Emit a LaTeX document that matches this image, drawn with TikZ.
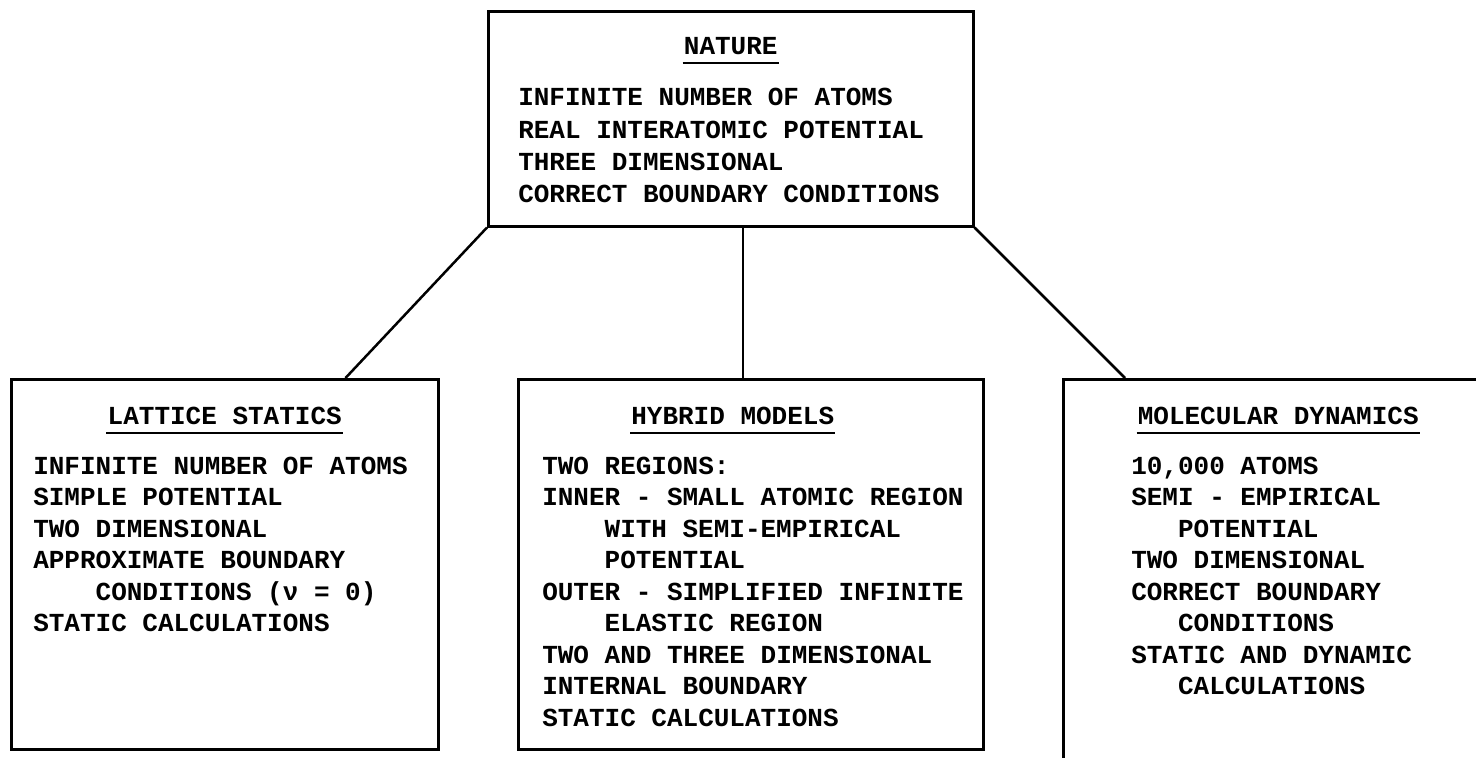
\documentclass[tikz,border=0pt]{standalone}
\usepackage{fontspec}
\setmonofont{Liberation Mono}
\usetikzlibrary{positioning}

\newcommand{\prfont}[1]{\ttfamily\bfseries\fontsize{26}{#1}\selectfont\frenchspacing\spaceskip=0.6em\relax}

\begin{document}
\begin{tikzpicture}[x=1pt, y=-1pt, line width=2.5pt,
  box/.style={draw, rectangle, anchor=north west, inner sep=0pt},
  heading/.style={inner sep=0pt, font=\prfont{31.5}},
  items/.style={inner sep=0pt, align=flush left, text width=440pt, font=\prfont{31.5}},
  uline/.style={line width=2pt}]
\path[use as bounding box, clip] (0,0) rectangle (1476,758);

% the four boxes
\node[box, minimum width=485pt, minimum height=215pt] (nature) at (487,10) {};
\node[box, minimum width=427pt, minimum height=370pt] (lattice) at (10,378) {};
\node[box, minimum width=465pt, minimum height=370pt] (hybrid) at (517,378) {};
\node[box, minimum width=430pt, minimum height=420pt] (molecular) at (1062,378) {};

% headings
\node[heading, below=26.5pt of nature.north] (natt) {NATURE};
\node[heading, below=27.5pt of lattice.north] (latt) {LATTICE STATICS};
\node[heading, below=27.5pt of hybrid.north, xshift=-18pt] (hybt) {HYBRID MODELS};
\node[heading, below=27.5pt of molecular.north] (molt) {MOLECULAR DYNAMICS};
\draw[uline] ([yshift=-7pt]natt.south west) -- ([yshift=-7pt]natt.south east);
\draw[uline] ([yshift=-7pt]latt.south west) -- ([yshift=-7pt]latt.south east);
\draw[uline] ([yshift=-7pt]hybt.south west) -- ([yshift=-7pt]hybt.south east);
\draw[uline] ([yshift=-7pt]molt.south west) -- ([yshift=-7pt]molt.south east);

% lists
\node[items, below right=77pt and 30pt of nature.north west, font=\prfont{32.4}] (natl)
  {INFINITE NUMBER OF ATOMS\\
   REAL INTERATOMIC POTENTIAL\\
   THREE DIMENSIONAL\\
   CORRECT BOUNDARY CONDITIONS};
\node[items, below right=77.5pt and 22pt of lattice.north west] (latl)
  {INFINITE NUMBER OF ATOMS\\
   SIMPLE POTENTIAL\\
   TWO DIMENSIONAL\\
   APPROXIMATE BOUNDARY\\
   \hspace*{2.4em}CONDITIONS (ν = 0)\\
   STATIC CALCULATIONS};
\node[items, below right=77.5pt and 24pt of hybrid.north west] (hybl)
  {TWO REGIONS:\\
   INNER - SMALL ATOMIC REGION\\
   \hspace*{2.4em}WITH SEMI-EMPIRICAL\\
   \hspace*{2.4em}POTENTIAL\\
   OUTER - SIMPLIFIED INFINITE\\
   \hspace*{2.4em}ELASTIC REGION\\
   TWO AND THREE DIMENSIONAL\\
   INTERNAL BOUNDARY\\
   STATIC CALCULATIONS};
\node[items, below right=77.5pt and 68pt of molecular.north west] (moll)
  {10,000 ATOMS\\
   SEMI - EMPIRICAL\\
   \hspace*{1.8em}POTENTIAL\\
   TWO DIMENSIONAL\\
   CORRECT BOUNDARY\\
   \hspace*{1.8em}CONDITIONS\\
   STATIC AND DYNAMIC\\
   \hspace*{1.8em}CALCULATIONS};

% connectors
\path (nature.south west) edge ([xshift=-94pt]lattice.north east)
      ([xshift=-8pt]hybrid.north |- nature.south) edge ([xshift=-8pt]hybrid.north)
      (nature.south east) edge ([xshift=63pt]molecular.north west);
\end{tikzpicture}
\end{document}
